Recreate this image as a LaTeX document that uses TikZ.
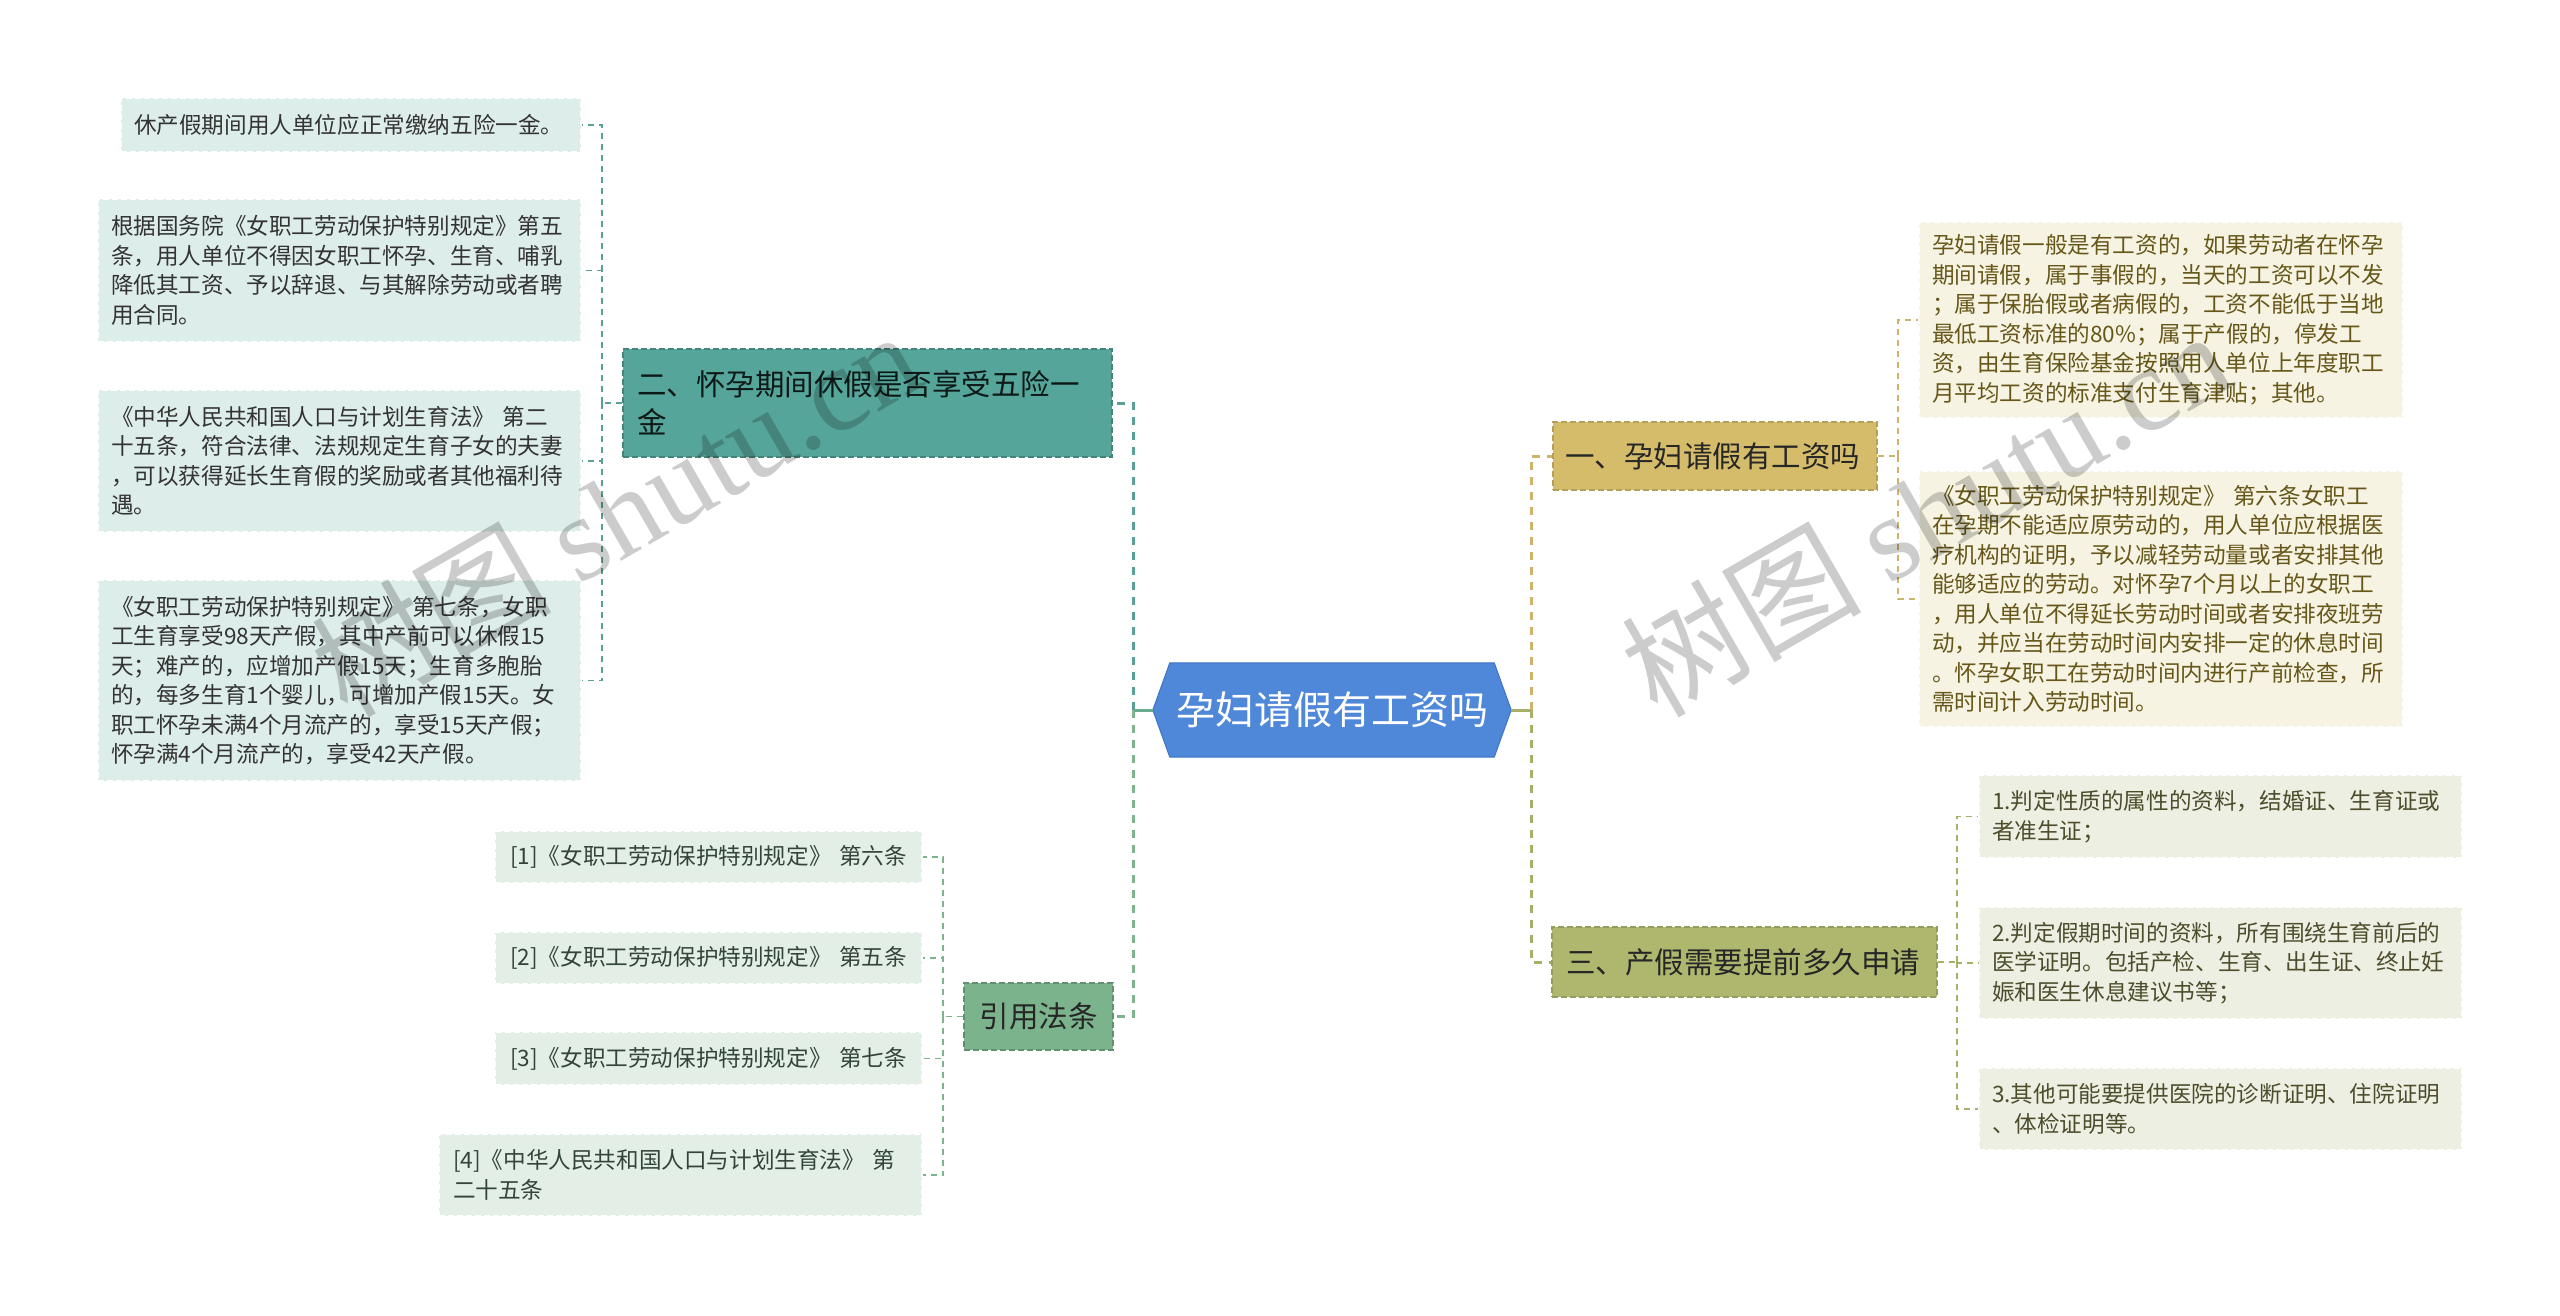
\documentclass[tikz,border=0pt]{standalone}
\usepackage{fontspec}
\setmainfont{Noto Sans CJK SC}
\newfontfamily\wmlatin{Liberation Serif}
\usetikzlibrary{backgrounds}
\definecolor{rootblue}{HTML}{4F87D9}
\definecolor{rootedge}{HTML}{3F74C4}
\definecolor{fteal}{HTML}{56A59A}
\definecolor{fgold}{HTML}{D4BC6B}
\definecolor{folive}{HTML}{AFB76F}
\definecolor{fgreen}{HTML}{7BB38C}
\definecolor{lteal}{HTML}{DDEDEA}
\definecolor{lgreen}{HTML}{E3EFE6}
\definecolor{lcream}{HTML}{F6F3E3}
\definecolor{lolive}{HTML}{EEEFE3}
\definecolor{cteal}{HTML}{5AA096}
\definecolor{cgreen}{HTML}{7DB38D}
\definecolor{cgold}{HTML}{CDB46A}
\definecolor{colive}{HTML}{A7AF68}
\definecolor{tdark}{HTML}{262626}
\definecolor{tteal}{HTML}{333333}
\definecolor{tgreen}{HTML}{33443A}
\definecolor{tbrown}{HTML}{665719}
\definecolor{tolive}{HTML}{4D4D2C}
\newcommand\lffont{\fontsize{22.6}{29.5}\selectfont}
\newcommand\mnfont{\fontsize{29.5}{37.5}\selectfont}
\newcommand\rtfont{\fontsize{39}{46}\selectfont}
\tikzset{
  bx/.style={inner ysep=0pt, align=left, line width=1.2pt, dash pattern=on 6pt off 3pt},
  leafbox/.style={bx, inner xsep=13pt, font=\lffont, draw=white},
  mainbox/.style={bx, inner xsep=14pt, font=\mnfont, text=tdark},
  trunk/.style={line width=3pt, dash pattern=on 8pt off 7pt},
  stub/.style={line width=3pt},
  childconn/.style={line width=1.8pt, dash pattern=on 6pt off 5pt},
  wm/.style={font=\fontsize{120}{120}\selectfont, text=black, text opacity=0.2, inner sep=0pt}
}
\begin{document}
\begin{tikzpicture}[x=1pt,y=-1pt]
\useasboundingbox (0,0) rectangle (2560,1316);

% root
\node[font=\rtfont, text=white, minimum width=358pt, minimum height=94pt, inner sep=0pt] (root) at (1332,710) {孕妇请假有工资吗};
\begin{scope}[on background layer]
\fill[white] (0,0) rectangle (2560,1316);
\draw[fill=rootblue, draw=rootedge, line width=1pt] (root.west) -- ([xshift=17pt]root.north west) -- ([xshift=-17pt]root.north east) -- (root.east) -- ([xshift=-17pt]root.south east) -- ([xshift=17pt]root.south west) -- cycle;
\end{scope}

% main nodes
\node[mainbox, fill=fteal, draw=fteal!80!black, text=black!85!fteal, text width=461pt, minimum height=108pt] (n2) at (867.5,403) {二、怀孕期间休假是否享受五险一\\金};
\node[mainbox, fill=fgreen, draw=fgreen!80!black, align=center, inner xsep=14.5pt, text width=120pt, minimum height=67pt] (ny) at (1038.5,1016.5) {引用法条};
\node[mainbox, fill=fgold, draw=fgold!85!black, inner xsep=12pt, text width=300pt, minimum height=68pt] (n1) at (1715,456) {一、孕妇请假有工资吗};
\node[mainbox, fill=folive, draw=folive!85!black, inner xsep=14pt, text width=357pt, minimum height=70pt] (n3) at (1744.5,962) {三、产假需要提前多久申请};

% left leaves (二)
\node[leafbox, fill=lteal, text=tteal, text width=434pt, minimum height=54pt] (L1) at (351,125) {休产假期间用人单位应正常缴纳五险一金。};
\node[leafbox, fill=lteal, text=tteal, text width=457pt, minimum height=143pt] (L2) at (339.5,270.5) {根据国务院《女职工劳动保护特别规定》第五\\条，用人单位不得因女职工怀孕、生育、哺乳\\降低其工资、予以辞退、与其解除劳动或者聘\\用合同。};
\node[leafbox, fill=lteal, text=tteal, text width=457pt, minimum height=142pt] (L3) at (339.5,461) {《中华人民共和国人口与计划生育法》 第二\\十五条，符合法律、法规规定生育子女的夫妻\\，可以获得延长生育假的奖励或者其他福利待\\遇。};
\node[leafbox, fill=lteal, text=tteal, text width=457pt, minimum height=201pt] (L4) at (339.5,680.5) {《女职工劳动保护特别规定》 第七条，女职\\工生育享受98天产假，其中产前可以休假15\\天；难产的，应增加产假15天；生育多胞胎\\的，每多生育1个婴儿，可增加产假15天。女\\职工怀孕未满4个月流产的，享受15天产假；\\怀孕满4个月流产的，享受42天产假。};

% 引用 leaves
\node[leafbox, fill=lgreen, text=tgreen, inner xsep=15pt, text width=397pt, minimum height=52pt] (R1) at (708.5,857) {[1]《女职工劳动保护特别规定》 第六条};
\node[leafbox, fill=lgreen, text=tgreen, inner xsep=15pt, text width=397pt, minimum height=52pt] (R2) at (708.5,958) {[2]《女职工劳动保护特别规定》 第五条};
\node[leafbox, fill=lgreen, text=tgreen, inner xsep=15pt, text width=397pt, minimum height=53pt] (R3) at (708.5,1058.5) {[3]《女职工劳动保护特别规定》 第七条};
\node[leafbox, fill=lgreen, text=tgreen, inner xsep=14pt, text width=455pt, minimum height=82pt] (R4) at (680.5,1175) {[4]《中华人民共和国人口与计划生育法》 第\\二十五条};

% 一 leaves
\node[leafbox, fill=lcream, text=tbrown, text width=458pt, minimum height=196pt] (C1) at (2161,320) {孕妇请假一般是有工资的，如果劳动者在怀孕\\期间请假，属于事假的，当天的工资可以不发\\；属于保胎假或者病假的，工资不能低于当地\\最低工资标准的80\%；属于产假的，停发工\\资，由生育保险基金按照用人单位上年度职工\\月平均工资的标准支付生育津贴；其他。};
\node[leafbox, fill=lcream, text=tbrown, text width=458pt, minimum height=256pt] (C2) at (2161,599) {《女职工劳动保护特别规定》 第六条女职工\\在孕期不能适应原劳动的，用人单位应根据医\\疗机构的证明，予以减轻劳动量或者安排其他\\能够适应的劳动。对怀孕7个月以上的女职工\\，用人单位不得延长劳动时间或者安排夜班劳\\动，并应当在劳动时间内安排一定的休息时间\\。怀孕女职工在劳动时间内进行产前检查，所\\需时间计入劳动时间。};

% 三 leaves
\node[leafbox, fill=lolive, text=tolive, text width=457pt, minimum height=83pt] (D1) at (2220.5,816.5) {1.判定性质的属性的资料，结婚证、生育证或\\者准生证；};
\node[leafbox, fill=lolive, text=tolive, text width=457pt, minimum height=112pt] (D2) at (2220.5,963) {2.判定假期时间的资料，所有围绕生育前后的\\医学证明。包括产检、生育、出生证、终止妊\\娠和医生休息建议书等；};
\node[leafbox, fill=lolive, text=tolive, text width=457pt, minimum height=82pt] (D3) at (2220.5,1109) {3.其他可能要提供医院的诊断证明、住院证明\\、体检证明等。};

% trunks from root
\coordinate (jl) at (1133,710);
\coordinate (jr) at (1531,710);
\draw[stub, draw=cteal!50!cgreen] (root.west) -- (jl);
\draw[trunk, draw=cteal] (jl) |- (n2.east);
\draw[trunk, draw=cgreen] (jl) |- (ny.east);
\draw[stub, draw=colive] (root.east) -- (jr);
\draw[trunk, draw=cgold] (jr) |- (n1.west);
\draw[trunk, draw=colive] (jr) |- (n3.west);

% 二 children
\coordinate (j2) at (602,403);
\draw[childconn, draw=cteal] (n2.west) -- (j2);
\foreach \c in {L1,L2,L3,L4} \draw[childconn, draw=cteal] (j2) |- (\c.east);

% 引用 children
\coordinate (jy) at (943,1016.5);
\draw[childconn, draw=cgreen] (ny.west) -- (jy);
\foreach \c in {R1,R2,R3,R4} \draw[childconn, draw=cgreen] (jy) |- (\c.east);

% 一 children
\coordinate (j1) at (1898,456);
\draw[childconn, draw=cgold] (n1.east) -- (j1);
\foreach \c in {C1,C2} \draw[childconn, draw=cgold] (j1) |- (\c.west);

% 三 children
\coordinate (j3) at (1957,962);
\draw[childconn, draw=colive] (n3.east) -- (j3);
\foreach \c in {D1,D2,D3} \draw[childconn, draw=colive] (j3) |- (\c.west);

% watermarks
\node[wm, rotate=30] (wm1) at (615,512) {树图 {\wmlatin shutu.cn}};
\node[wm, rotate=30] (wm2) at (1925,512) {树图 {\wmlatin shutu.cn}};
\end{tikzpicture}
\end{document}
